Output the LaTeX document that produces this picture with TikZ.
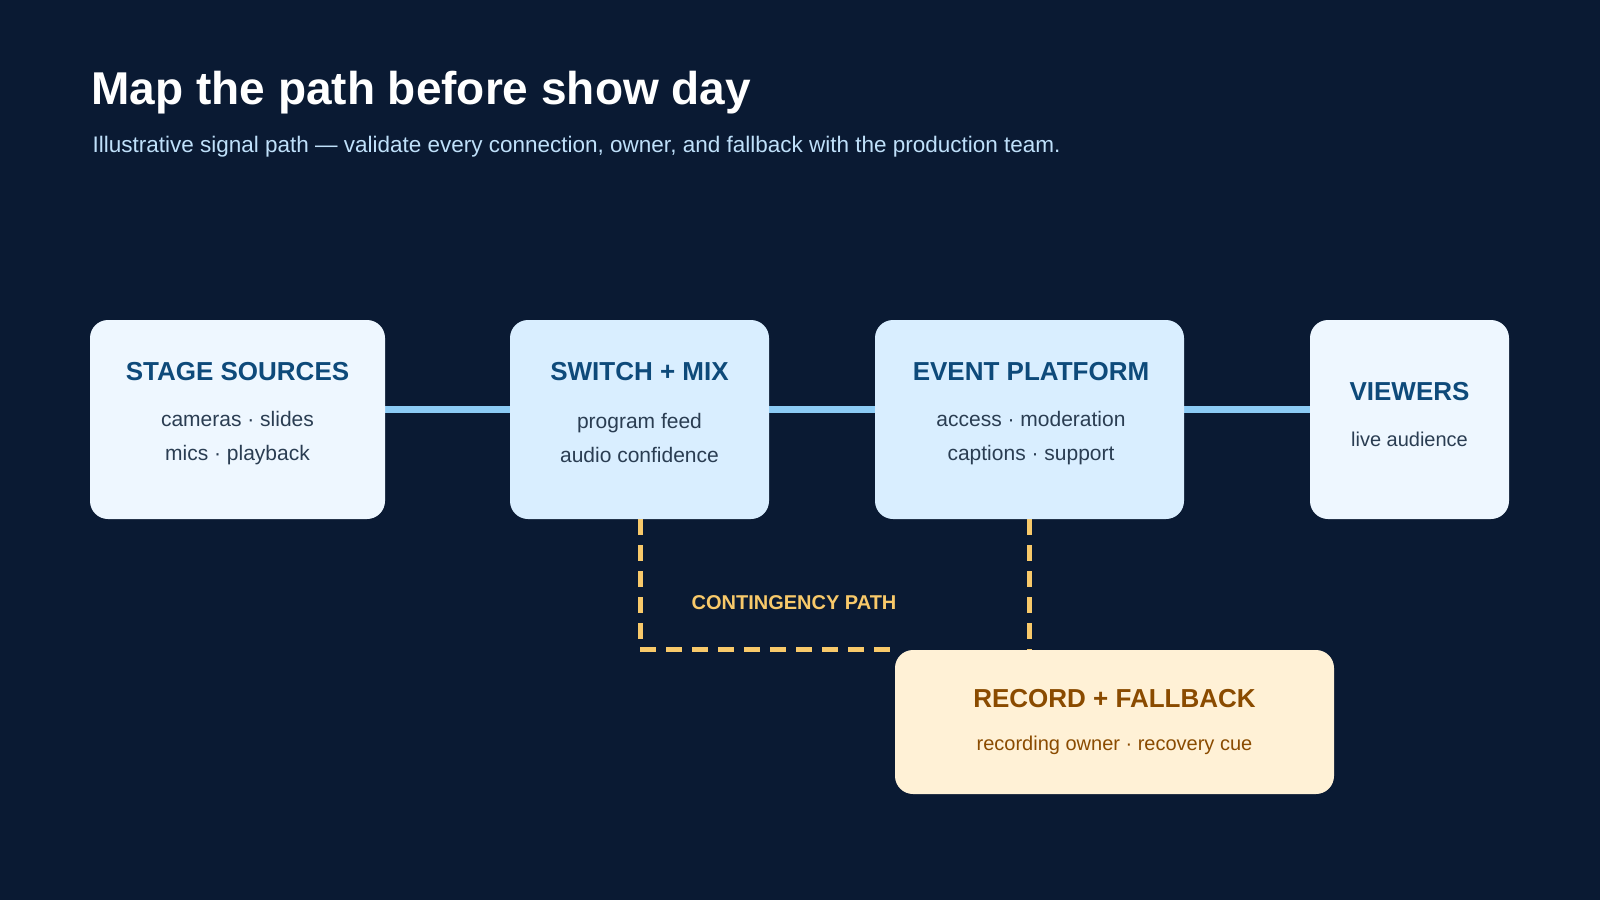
\documentclass[tikz,border=0pt]{standalone}
\usepackage{fontspec}
\setmainfont{Liberation Sans}
\definecolor{bg}{HTML}{0A1A33}
\definecolor{boxa}{HTML}{EEF7FF}
\definecolor{boxb}{HTML}{D9EEFF}
\definecolor{ttl}{HTML}{0E4A7A}
\definecolor{txt}{HTML}{2A3D52}
\definecolor{line}{HTML}{8CCBF5}
\definecolor{gold}{HTML}{F8C96A}
\definecolor{rec}{HTML}{FFF1D6}
\definecolor{brown}{HTML}{8A4B00}
\definecolor{sub}{HTML}{BFE0FA}
\begin{document}
\begin{tikzpicture}[x=1pt,y=-1pt,
 box/.style={rounded corners=18pt,draw=none},
 bt/.style={font=\fontsize{26}{30}\selectfont\bfseries,text=ttl},
 bb/.style={font=\fontsize{21}{34}\selectfont,text=txt,align=center},
 conn/.style={line,line width=7pt},
 contdash/.style={gold,line width=5pt,dash pattern=on 16pt off 10pt}]
\fill[bg] (0,0) rectangle (1600,900);
\useasboundingbox (0,0) rectangle (1600,900);
\node[anchor=base west,text=white,font=\fontsize{46}{50}\selectfont\bfseries] (title) at (88,104) {Map the path before show day};
\node[anchor=base west,text=sub,font=\fontsize{22.5}{26}\selectfont] (subt) at (89,152) {Illustrative signal path — validate every connection, owner, and fallback with the production team.};
% connectors
\coordinate (c1) at (385,409); \coordinate (c2) at (510,409);
\coordinate (c3) at (769,409); \coordinate (c4) at (875,409);
\coordinate (c5) at (1184,409); \coordinate (c6) at (1310,409);
\draw[conn] (c1)--(c2); \draw[conn] (c3)--(c4); \draw[conn] (c5)--(c6);
% dashed
\coordinate (d1) at (640,519); \coordinate (d2) at (640,649); \coordinate (d3) at (898,649);
\coordinate (e1) at (1029,519); \coordinate (e2) at (1029,650);
\draw[contdash] (d1)--(d2)--(d3);
\draw[contdash] (e1)--(e2);
\node[text=gold,font=\fontsize{20}{24}\selectfont\bfseries] (cl) at (794,603) {CONTINGENCY PATH};
% boxes
\fill[box,boxa] (90,320) rectangle (385,519);
\node[bt] (s1) at (237.5,372) {STAGE SOURCES};
\node[bb] (s1b) at (237.5,438) {cameras · slides\\mics · playback};
\fill[box,boxb] (510,320) rectangle (769,519);
\node[bt] (s2) at (639.5,372) {SWITCH + MIX};
\node[bb] (s2b) at (639.5,438) {program feed\\audio confidence};
\fill[box,boxb] (875,320) rectangle (1184,519);
\node[bt] (s3) at (1031,372) {EVENT PLATFORM};
\node[bb] (s3b) at (1031,438) {access · moderation\\captions · support};
\fill[box,boxa] (1310,320) rectangle (1509,519);
\node[bt] (s4) at (1409.5,392) {VIEWERS};
\node[bb,font=\fontsize{20}{24}\selectfont] (s4b) at (1409.5,439) {live audience};
\fill[box,rec] (895,650) rectangle (1334,794);
\node[bt,text=brown] (r) at (1114.5,699) {RECORD + FALLBACK};
\node[bb,text=brown,font=\fontsize{20}{24}\selectfont] (rb) at (1114.5,745) {recording owner · recovery cue};
\end{tikzpicture}
\end{document}
